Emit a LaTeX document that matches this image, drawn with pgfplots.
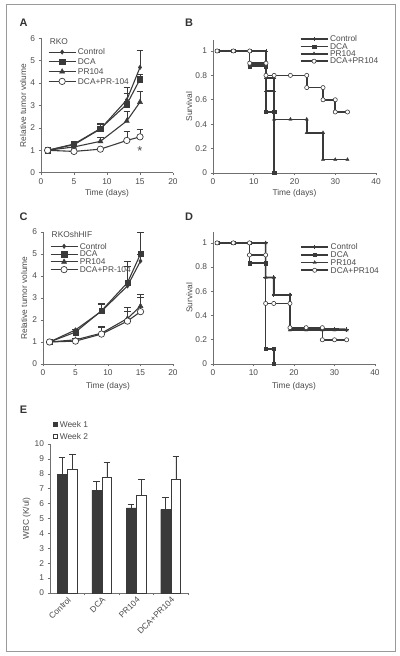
\documentclass[border=0pt]{standalone}
\usepackage{pgfplots}
\pgfplotsset{compat=1.18}
\usepackage{fontspec}
\setmainfont{Liberation Sans}
\definecolor{ln}{HTML}{3A3A3A}
\definecolor{ax}{HTML}{707070}
\definecolor{tx}{HTML}{4A4A4A}
\definecolor{frm}{HTML}{9A9A9A}
\newcommand\fs{\fontsize{8.4}{9.5}\selectfont}
\pgfplotsset{
  base/.style={scale only axis, anchor=south west, axis lines*=left, clip=false,
    axis line style={ax, line width=0.6pt}, tick style={ax, line width=0.6pt},
    tick align=outside, major tick length=2.5pt,
    ticklabel style={font=\fs, text=tx}, label style={font=\fs, text=tx},
    /pgf/number format/assume math mode=true,
    legend cell align=left,
    legend style={draw=none, fill=none, font=\fs, text=tx,
      nodes={inner sep=0.3pt, text height=6pt, text depth=0.5pt}, column sep=1.5pt},
    legend image code/.code={\draw[##1, mark repeat=2, mark phase=2] plot coordinates {(0pt,0pt) (13.5pt,0pt) (27pt,0pt)};},
    error bars/error bar style={ln, line width=0.6pt, solid},
    error bars/error mark options={rotate=90, ln, line width=0.6pt, mark size=3.3pt},
  },
  ctrl/.style={ln, line width=1.1pt, mark=diamond*, mark size=2.2pt, mark options={fill=ln, line width=0.5pt}},
  dca/.style={ln, line width=1.1pt, mark=square*, mark size=2.7pt, mark options={fill=ln, line width=0.5pt}},
  prr/.style={ln, line width=1.1pt, mark=triangle*, mark size=2.9pt, mark options={fill=ln, line width=0.5pt}},
  dp/.style={ln, line width=1.1pt, mark=*, mark size=3.2pt, mark options={fill=white, draw=ln, line width=0.7pt}},
  sctrl/.style={ln, line width=1.6pt, mark=+, mark size=2.2pt, mark options={line width=0.8pt}},
  sdca/.style={ln, line width=1.6pt, mark=square*, mark size=1.7pt, mark options={fill=ln, line width=0.4pt}},
  sprr/.style={ln, line width=1.6pt, mark=triangle*, mark size=1.9pt, mark options={fill=ln, line width=0.4pt}},
  sdp/.style={ln, line width=1.6pt, mark=*, mark size=2.1pt, mark options={fill=white, draw=ln, line width=0.6pt}},
}
\begin{document}
\begin{tikzpicture}
\path[use as bounding box] (0,0) rectangle (400bp,656bp);
\draw[frm, line width=0.8pt] (6bp,5bp) rectangle (395bp,652bp);
\foreach \l/\x/\y in {A/23.5/633.5, B/189/633.5, C/23.5/439.5, D/189/439.5, E/23.5/246}
  \node[font=\fontsize{11}{12}\selectfont\bfseries, text=black!80] at (\x bp,\y bp) {\l};

% ---------- A ----------
\begin{axis}[base, at={(41bp,483.3bp)}, width=132bp, height=134.4bp,
  xmin=0, xmax=20, ymin=0, ymax=6, xtick={0,5,...,20}, ytick={0,1,...,6},
  xlabel={Time (days)}, ylabel={Relative tumor volume},
  xlabel style={at={(axis description cs:0.5,-0.15)}, anchor=center},
  ylabel style={at={(axis description cs:-0.135,0.5)}, anchor=center},
  legend style={at={(axis description cs:0.03,0.94)}, anchor=north west, row sep=2.7pt}]
\addplot[ctrl, error bars/.cd, y dir=plus, y explicit] coordinates {(1,1)+-(0,0) (5,1.25)+-(0,0.05) (9,1.95)+-(0,0.25) (13,3.25)+-(0,0.55) (15,4.7)+-(0,0.75)};
\addlegendentry{Control}
\addplot[dca, error bars/.cd, y dir=plus, y explicit] coordinates {(1,1)+-(0,0) (5,1.28)+-(0,0.05) (9,1.97)+-(0,0.2) (13,3.05)+-(0,0.5) (15,4.17)+-(0,0.22)};
\addlegendentry{DCA}
\addplot[prr, error bars/.cd, y dir=plus, y explicit] coordinates {(1,1)+-(0,0) (5,1.15)+-(0,0.05) (9,1.4)+-(0,0.2) (13,2.31)+-(0,0.41) (15,3.15)+-(0,0.5)};
\addlegendentry{PR104}
\addplot[dp, error bars/.cd, y dir=plus, y explicit] coordinates {(1,1)+-(0,0) (5,0.95)+-(0,0.03) (9,1.05)+-(0,0.05) (13,1.44)+-(0,0.4) (15,1.6)+-(0,0.35)};
\addlegendentry{DCA+PR-104}
\node[anchor=west, font=\fs, text=tx] at (axis description cs:0.04,0.975) {RKO};
\node[font=\fontsize{13}{13}\selectfont, text=tx] at (axis cs:15,0.98) {*};
\end{axis}

% ---------- B ----------
\begin{axis}[base, at={(213bp,483bp)}, width=163bp, height=133bp,
  xmin=0, xmax=40, ymin=0, ymax=1.09, xtick={0,10,...,40}, ytick={0,0.2,...,1},
  xlabel={Time (days)}, ylabel={Survival},
  xlabel style={at={(axis description cs:0.5,-0.15)}, anchor=center},
  ylabel style={at={(axis description cs:-0.147,0.5)}, anchor=center},
  legend style={at={(axis description cs:0.513,1.05)}, anchor=north west, row sep=0.3pt}]
\addplot[sctrl] coordinates {(1,1)(5,1)(9,1)(13,1)(13,0.67)(15,0.67)(15,0)};
\addlegendentry{Control}
\addplot[sdca] coordinates {(1,1)(5,1)(9,1)(9,0.875)(13,0.875)(13,0.5)(15,0.5)(15,0)};
\addlegendentry{DCA}
\addplot[sprr] coordinates {(1,1)(5,1)(9,1)(9,0.89)(13,0.89)(13,0.78)(15,0.78)(15,0.44)(19,0.44)(23,0.44)(23,0.33)(27,0.33)(27,0.11)(30,0.11)(33,0.11)};
\addlegendentry{PR104}
\addplot[sdp] coordinates {(1,1)(5,1)(9,1)(9,0.9)(13,0.9)(13,0.8)(15,0.8)(19,0.8)(23,0.8)(23,0.7)(27,0.7)(27,0.6)(30,0.6)(30,0.5)(33,0.5)};
\addlegendentry{DCA+PR104}
\end{axis}

% ---------- C ----------
\begin{axis}[base, at={(43bp,292bp)}, width=130bp, height=132bp,
  xmin=0, xmax=20, ymin=0, ymax=6, xtick={0,5,...,20}, ytick={0,1,...,6},
  xlabel={Time (days)}, ylabel={Relative tumor volume},
  xlabel style={at={(axis description cs:0.5,-0.17)}, anchor=center},
  ylabel style={at={(axis description cs:-0.146,0.5)}, anchor=center},
  legend style={at={(axis description cs:0.03,0.935)}, anchor=north west, row sep=0.7pt}]
\addplot[ctrl, error bars/.cd, y dir=plus, y explicit] coordinates {(1,1)+-(0,0) (5,1.55)+-(0,0.05) (9,2.4)+-(0,0.3) (13,3.55)+-(0,0.9) (15,4.68)+-(0,0.3)};
\addlegendentry{Control}
\addplot[dca, error bars/.cd, y dir=plus, y explicit] coordinates {(1,1)+-(0,0) (5,1.45)+-(0,0.05) (9,2.42)+-(0,0.33) (13,3.7)+-(0,0.97) (15,5.0)+-(0,0.97)};
\addlegendentry{DCA}
\addplot[prr, error bars/.cd, y dir=plus, y explicit] coordinates {(1,1)+-(0,0) (5,1.1)+-(0,0.05) (9,1.4)+-(0,0.3) (13,2.07)+-(0,0.5) (15,2.63)+-(0,0.55)};
\addlegendentry{PR104}
\addplot[dp, error bars/.cd, y dir=plus, y explicit] coordinates {(1,1)+-(0,0) (5,1.04)+-(0,0.03) (9,1.36)+-(0,0.32) (13,1.95)+-(0,0.46) (15,2.38)+-(0,0.63)};
\addlegendentry{DCA+PR-104}
\node[anchor=west, font=\fs, text=tx] at (axis description cs:0.04,0.98) {RKOshHIF};
\end{axis}

% ---------- D ----------
\begin{axis}[base, at={(213bp,292bp)}, width=162bp, height=132bp,
  xmin=0, xmax=40, ymin=0, ymax=1.09, xtick={0,10,...,40}, ytick={0,0.2,...,1},
  xlabel={Time (days)}, ylabel={Survival},
  xlabel style={at={(axis description cs:0.5,-0.167)}, anchor=center},
  ylabel style={at={(axis description cs:-0.146,0.5)}, anchor=center},
  legend style={at={(axis description cs:0.52,0.93)}, anchor=north west, row sep=0.7pt}]
\addplot[sctrl] coordinates {(1,1)(5,1)(9,1)(13,1)(13,0.714)(15,0.714)(15,0.571)(19,0.571)(19,0.29)(23,0.29)(27,0.29)(30,0.29)(33,0.286)};
\addlegendentry{Control}
\addplot[sdca] coordinates {(1,1)(5,1)(9,1)(9,0.833)(13,0.833)(13,0.125)(15,0.125)(15,0)};
\addlegendentry{DCA}
\addplot[sprr] coordinates {(1,1)(5,1)(9,1)(13,1)(13,0.714)(15,0.714)(15,0.571)(19,0.571)(19,0.28)(23,0.28)(27,0.28)(30,0.28)(33,0.28)};
\addlegendentry{PR104}
\addplot[sdp] coordinates {(1,1)(5,1)(9,1)(9,0.9)(13,0.9)(13,0.5)(15,0.5)(19,0.5)(19,0.3)(23,0.3)(27,0.3)(27,0.2)(30,0.2)(33,0.2)};
\addlegendentry{DCA+PR104}
\end{axis}

% ---------- E ----------
\begin{axis}[base, at={(50bp,63bp)}, width=138bp, height=149bp,
  ybar=1pt, bar width=9.5bp,
  xmin=0.5, xmax=4.5, ymin=0, ymax=10, ytick={0,1,...,10},
  xtick={1,2,3,4}, xticklabels={Control,DCA,PR104,DCA+PR104},
  major x tick style={draw=none}, minor xtick={1.5,2.5,3.5,4.5}, minor tick length=2.5pt,
  xticklabel style={rotate=45, anchor=north east, inner sep=0.5pt},
  ylabel={WBC (K/ul)},
  ylabel style={at={(axis description cs:-0.169,0.5)}, anchor=center},
  legend style={at={(axis description cs:0.0,1.17)}, anchor=north west, row sep=5pt}]
\addplot[fill=ln, draw=ln, line width=0.5pt,
  legend image code/.code={\draw[fill=ln, draw=ln, line width=0.4pt] (0pt,-2.1pt) rectangle (4.2pt,2.1pt);},
  error bars/.cd, y dir=plus, y explicit] coordinates {(1,7.96)+-(0,1.12) (2,6.9)+-(0,0.61) (3,5.72)+-(0,0.22) (4,5.62)+-(0,0.81)};
\addlegendentry{Week 1}
\addplot[fill=white, draw=ln, line width=0.7pt,
  legend image code/.code={\draw[fill=white, draw=ln, line width=0.6pt] (0pt,-2.1pt) rectangle (4.2pt,2.1pt);},
  error bars/.cd, y dir=plus, y explicit] coordinates {(1,8.3)+-(0,1.03) (2,7.74)+-(0,1.0) (3,6.57)+-(0,1.05) (4,7.62)+-(0,1.55)};
\addlegendentry{Week 2}
\end{axis}
\end{tikzpicture}
\end{document}
